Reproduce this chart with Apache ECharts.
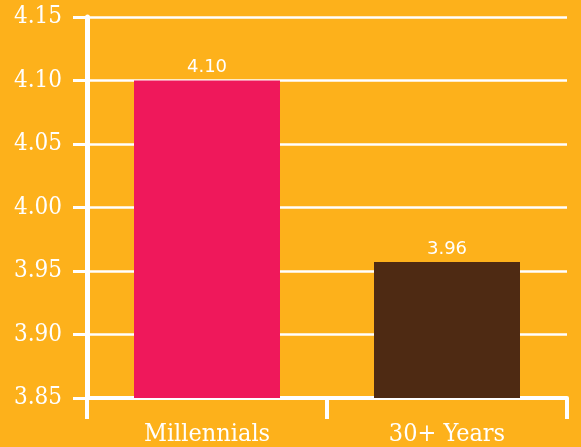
<!DOCTYPE html>
<html>
<head>
<meta charset="utf-8">
<script src="https://cdn.jsdelivr.net/npm/echarts@6/dist/echarts.min.js"></script>
<style>
html, body { margin: 0; padding: 0; background: #FDB11B; }
#chart { width: 581px; height: 447px; }
</style>
</head>
<body>
<div id="chart"></div>
<script>
var categories = ['Millennials', '30+ Years'];
var values = [4.10, 3.957];
var barColors = ['#EF185B', '#4E2A13'];

var chart = echarts.init(document.getElementById('chart'));

var option = {
    backgroundColor: '#FDB11B',
    animation: false,
    grid: { left: 87, right: 14, top: 17, bottom: 47 },
    xAxis: {
        type: 'category',
        data: categories,
        axisLine: { lineStyle: { color: '#fff', width: 4 } },
        axisTick: { show: true, length: 21, lineStyle: { color: '#fff', width: 4 } },
        axisLabel: {
            color: '#fff',
            fontFamily: 'DejaVu Serif Condensed, DejaVu Serif',
            fontSize: 25,
            margin: 24
        }
    },
    yAxis: {
        type: 'value',
        min: 3.85,
        max: 4.15,
        interval: 0.05,
        axisLine: { show: true, lineStyle: { color: '#fff', width: 5 } },
        axisTick: { show: true, length: 14, lineStyle: { color: '#fff', width: 3 } },
        splitLine: { lineStyle: { color: '#fff', width: 2.5 } },
        axisLabel: {
            color: '#fff',
            fontFamily: 'DejaVu Serif Condensed, DejaVu Serif',
            fontSize: 24,
            margin: 25,
            formatter: function (v) { return v.toFixed(2); }
        }
    },
    series: [{
        type: 'bar',
        barWidth: 146,
        data: values.map(function (v, i) {
            return { value: v, itemStyle: { color: barColors[i] } };
        }),
        label: {
            show: true,
            position: 'top',
            distance: 4,
            color: '#fff',
            fontFamily: 'DejaVu Sans',
            fontSize: 18,
            formatter: function (p) { return p.value.toFixed(2); }
        }
    }]
};

chart.setOption(option);
</script>
</body>
</html>
